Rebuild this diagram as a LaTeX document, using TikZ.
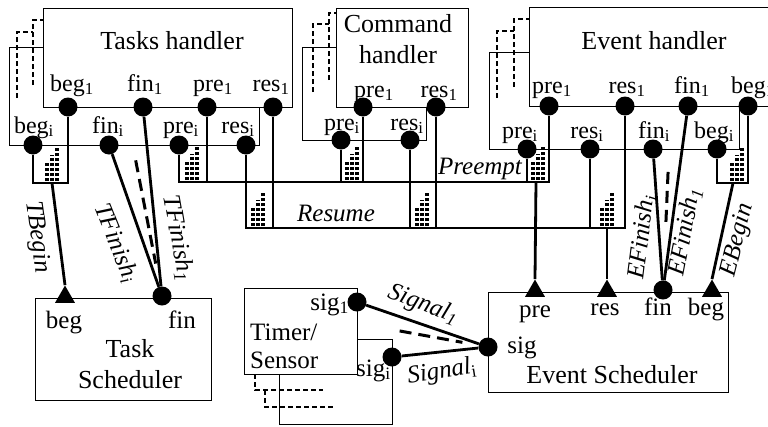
\documentclass[tikz,border=0pt]{standalone}
\usepackage{fontspec}
\setmainfont{Liberation Serif}
\usetikzlibrary{positioning,shapes.geometric,fit}

% three dotted columns standing on a bus at (#1,#2)
\newcommand{\busdots}[2]{%
  \foreach \dx/\h in {0/18,5/26,10/34}
    \draw[stairdots] (#1+\dx,#2-2) -- ++(0,-\h);}

\begin{document}
\begin{tikzpicture}[x=1pt, y=-1pt,
    box/.style={draw, line width=1pt, fill=white, inner sep=0pt},
    dot/.style={circle, fill, inner sep=0pt, minimum size=19pt},
    inport/.style={regular polygon, regular polygon sides=3, fill, inner sep=0pt, minimum size=23pt, anchor=south},
    wire/.style={line width=2.8pt},
    hint/.style={line width=3pt, dash pattern=on 12pt off 7pt},
    ghost/.style={line width=2pt, dash pattern=on 5pt off 3pt},
    stairdots/.style={line width=3.3pt, dash pattern=on 3.3pt off 1.7pt},
    title/.style={font=\fontsize{26}{31}\selectfont, align=center},
    plab/.style={font=\fontsize{24}{24}\selectfont, inner sep=0pt, text depth=0pt},
    slab/.style={font=\fontsize{25}{25}\selectfont, inner sep=0pt, anchor=base},
    conlab/.style={font=\fontsize{25}{25}\selectfont\itshape, inner sep=0pt}]
  \useasboundingbox (0,0) rectangle (768,426);

  % Tasks handler
  \node[box, fit={(9,47) (259,145)}] (thi) {};
  \draw[ghost] (17,98) |- (33,32);
  \draw[ghost] (33,85) |- (43,20);
  \node[box, fit={(43,8) (292,107)}] (th1) {};
  \node[title] (thname) at (172,41) {Tasks handler};
  \node[dot, label={[plab, label distance=6pt, xshift=4pt]above:beg\textsubscript{1}}] (tb1) at (68,107) {};
  \node[dot, label={[plab, label distance=6pt, xshift=2pt]above:fin\textsubscript{1}}] (tf1) at (143,107) {};
  \node[dot, label={[plab, label distance=6pt, xshift=6pt]above:pre\textsubscript{1}}] (tp1) at (207,107) {};
  \node[dot, label={[plab, label distance=6pt, xshift=-2pt]above:res\textsubscript{1}}] (tr1) at (273,107) {};
  \node[dot, label={[plab, label distance=2pt, xshift=1pt]above:beg\textsubscript{i}}] (tbi) at (33,145) {};
  \node[dot, label={[plab, label distance=2pt, xshift=-1pt]above:fin\textsubscript{i}}] (tfi) at (109,145) {};
  \node[dot, label={[plab, label distance=2pt, xshift=2pt]above:pre\textsubscript{i}}] (tpi) at (179,145) {};
  \node[dot, label={[plab, label distance=2pt, xshift=-8pt]above:res\textsubscript{i}}] (tri) at (246,145) {};

  % Command handler
  \node[box, fit={(302,47) (426,140)}] (chi) {};
  \draw[ghost] (313,92) |- (329,24);
  \draw[ghost] (329,80) |- (336,13);
  \node[box, fit={(336,8) (468,107)}] (ch1) {};
  \node[title] (chname) at (398,39) {Command\\handler};
  \node[dot, label={[plab, label distance=0pt, xshift=11pt]above:pre\textsubscript{1}}] (cp1) at (363,107) {};
  \node[dot, label={[plab, label distance=0pt, xshift=3pt]above:res\textsubscript{1}}] (cr1) at (436,107) {};
  \node[dot, label={[plab, label distance=0pt, xshift=1pt]above:pre\textsubscript{i}}] (cpi) at (341,140) {};
  \node[dot, label={[plab, label distance=0pt, xshift=-3pt]above:res\textsubscript{i}}] (cri) at (410,140) {};

  % Event handler
  \node[box, fit={(489,52) (739,149)}] (ehi) {};
  \draw[ghost] (497,98) |- (514,31);
  \draw[ghost] (514,87) |- (529,19);
  \node[box, fit={(529,7) (790,106)}] (eh1) {};
  \node[title] (ehname) at (654,41) {Event handler};
  \node[dot, label={[plab, label distance=3pt, xshift=3pt]above:pre\textsubscript{1}}] (ep1) at (549,106) {};
  \node[dot, label={[plab, label distance=3pt, xshift=2pt]above:res\textsubscript{1}}] (er1) at (625,106) {};
  \node[dot, label={[plab, label distance=3pt, xshift=4pt]above:fin\textsubscript{1}}] (ef1) at (688,106) {};
  \node[dot, label={[plab, label distance=3pt, xshift=5pt]above:beg\textsubscript{1}}] (eb1) at (748,106) {};
  \node[dot, label={[plab, label distance=1pt, xshift=-7pt]above:pre\textsubscript{i}}] (epi) at (527,149) {};
  \node[dot, label={[plab, label distance=1pt, xshift=-3pt]above:res\textsubscript{i}}] (eri) at (590,149) {};
  \node[dot, label={[plab, label distance=1pt, xshift=1pt]above:fin\textsubscript{i}}] (efi) at (653,149) {};
  \node[dot, label={[plab, label distance=1pt, xshift=-3pt]above:beg\textsubscript{i}}] (ebi) at (717,149) {};

  % Task Scheduler
  \node[box, fit={(35,298) (211,400)}] (ts) {};
  \node[inport] (tsbeg) at (65,303) {};
  \node[dot] (tsfin) at (162,296) {};
  \node[slab] (tsbeglab) at (64,328) {beg};
  \node[slab] (tsfinlab) at (182,328) {fin};
  \node[title] (tsname) at (130,364) {Task\\Scheduler};

  % Event Scheduler
  \node[box, fit={(488,292) (728,392)}] (es) {};
  \node[inport] (espre) at (535,297) {};
  \node[inport] (esres) at (607,297) {};
  \node[inport] (esbeg) at (712,297) {};
  \node[dot] (esfin) at (663,290) {};
  \node[dot] (essig) at (488,347) {};
  \node[slab] (esprelab) at (535,317) {pre};
  \node[slab] (esreslab) at (605,315) {res};
  \node[slab] (esfinlab) at (658,315) {fin};
  \node[slab] (esbeglab) at (706,315) {beg};
  \node[slab] (essiglab) at (522,353) {sig};
  \node[title] (esname) at (612,375) {Event Scheduler};

  % Timer/Sensor
  \node[box, fit={(279,339) (392,424)}] (tmi) {};
  \draw[ghost] (255,374) |- (323,390);
  \draw[ghost] (265,390) |- (333,407);
  \node[box, fit={(244,288) (357,374)}] (tm1) {};
  \node[title, font=\fontsize{25}{28}\selectfont, align=left, anchor=west, inner sep=0pt] (tmname) at (250,346) {Timer/\\Sensor};
  \node[dot] (sg1) at (357,302) {};
  \node[dot] (sgi) at (392,357) {};
  \node[slab, anchor=base east] (sg1lab) at (349,310) {sig\textsubscript{1}};
  \node[slab, anchor=base west] (sgilab) at (356,376) {sig\textsubscript{i}};

  % begin of tasks
  \coordinate (tbj) at (52,183);
  \draw[wire] (tbi) |- (tb1 |- tbj) -- (tb1);
  \busdots{47}{183}
  \draw[wire] (tbj) -- (tsbeg.north);

  % preempt bus
  \coordinate (pj) at (536,182);
  \draw[wire] (tpi) |- (ep1 |- pj) -- (ep1);
  \foreach \n in {tp1,cpi,cp1,epi}
    \draw[wire] (\n) -- (\n |- pj);
  \busdots{187}{182}
  \busdots{347}{182}
  \busdots{533}{182}
  \draw[wire] (pj) -- (espre.north);

  % resume bus
  \coordinate (rj) at (607,228);
  \draw[wire] (tri) |- (er1 |- rj) -- (er1);
  \foreach \n in {tr1,cri,cr1,eri}
    \draw[wire] (\n) -- (\n |- rj);
  \busdots{253}{228}
  \busdots{417}{228}
  \busdots{602}{228}
  \draw[wire] (rj) -- (esres.north);

  % begin of events
  \coordinate (ebj) at (733,183);
  \draw[wire] (ebi) |- (eb1 |- ebj) -- (eb1);
  \busdots{732}{183}
  \draw[wire] (ebj) -- (esbeg.north);

  % finish lines
  \draw[wire] (tfi) -- (tsfin);
  \draw[wire] (tf1) -- (tsfin);
  \coordinate (tfm) at (129,126);
  \draw[hint, shorten <=35pt, shorten >=33pt] (tfm) -- (tsfin.center);
  \draw[wire] (efi) -- (esfin);
  \draw[wire] (ef1) -- (esfin);
  \coordinate (efm) at (670,127);
  \draw[hint, shorten <=45pt, shorten >=65pt] (efm) -- (esfin.center);

  % signals
  \draw[wire] (sg1) -- (essig);
  \draw[wire] (sgi) -- (essig);
  \coordinate (sgm) at (378,327);
  \draw[hint, shorten <=22pt, shorten >=26pt] (sgm) -- (essig.center);

  % connector labels
  \node[conlab, rotate=-82] (tbeginlab) at (37,237) {TBegin};
  \node[conlab, rotate=-68] (tfinilab) at (116,243) {TFinish\textsubscript{i}};
  \node[conlab, rotate=-80] (tfinonelab) at (178,238) {TFinish\textsubscript{1}};
  \node[conlab, anchor=base] (preemptlab) at (480,174) {Preempt};
  \node[conlab, anchor=base] (resumelab) at (336,221) {Resume};
  \node[conlab, rotate=83] (efinilab) at (642,237) {EFinish\textsubscript{i}};
  \node[conlab, rotate=79] (efinonelab) at (685,232) {EFinish\textsubscript{1}};
  \node[conlab, rotate=76] (ebeginlab) at (738,240) {EBegin};
  \node[conlab, rotate=-21] (sigonelab) at (423,305) {Signal\textsubscript{1}};
  \node[conlab, rotate=9] (sigilab) at (442,372) {Signal\textsubscript{\upshape i}};
\end{tikzpicture}
\end{document}
